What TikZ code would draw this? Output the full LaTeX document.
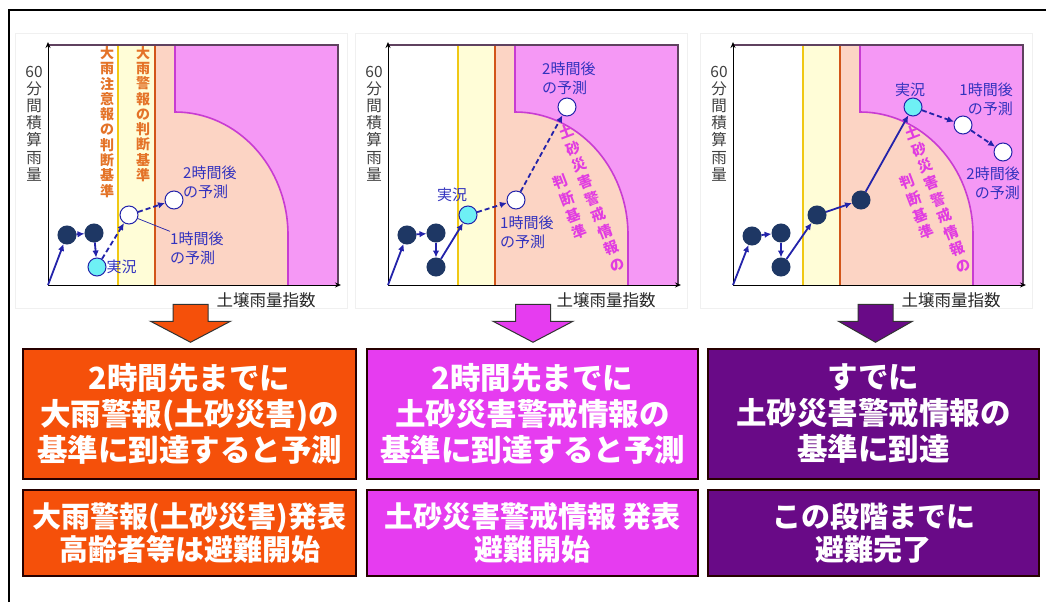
\documentclass[tikz,border=0pt]{standalone}
\usepackage{fontspec}
\newfontfamily\cjk{Noto Sans CJK JP}
\usetikzlibrary{arrows.meta}
\definecolor{navy}{RGB}{30,55,100}
\definecolor{ptblue}{RGB}{35,35,170}
\definecolor{lblblue}{RGB}{50,50,190}
\definecolor{cyanpt}{RGB}{110,240,245}
\definecolor{paleyel}{RGB}{255,253,215}
\definecolor{peach}{RGB}{252,212,196}
\definecolor{magfill}{RGB}{245,152,245}
\definecolor{magline}{RGB}{200,60,210}
\definecolor{yelline}{RGB}{240,200,20}
\definecolor{orline}{RGB}{210,85,25}
\definecolor{ortext}{RGB}{228,115,40}
\definecolor{magtext}{RGB}{225,60,225}
\definecolor{boxA}{RGB}{245,80,10}
\definecolor{boxB}{RGB}{230,60,240}
\definecolor{boxC}{RGB}{105,10,135}
\definecolor{framec}{RGB}{95,65,95}
\tikzset{
  panel/.style={draw=black!6,line width=0.6pt},
  magb/.style={draw=magline,line width=1.6pt},
  yell/.style={draw=yelline,line width=1.8pt},
  orl/.style={draw=orline,line width=1.8pt},
  plotframe/.style={draw=framec,line width=1.5pt},
  axis/.style={draw=black,line width=1pt,-{Stealth[length=6pt,width=5pt]}},
  ylab/.style={font=\cjk\fontsize{15.5}{17.2}\selectfont,text=black!75,align=center,inner sep=0pt},
  xlab/.style={font=\cjk\fontsize{16.5}{18}\selectfont,text=black!85,inner sep=0pt},
  pt/.style={circle,minimum size=18pt,inner sep=0pt,line width=1pt},
  darkpt/.style={pt,fill=navy,draw=navy},
  nowpt/.style={pt,fill=cyanpt,draw=ptblue},
  predpt/.style={pt,fill=white,draw=ptblue},
  conn/.style={draw=ptblue,line width=1.8pt,-{Latex[length=7pt,width=6.5pt]}},
  dconn/.style={conn,dash pattern=on 5pt off 3pt},
  lbl/.style={font=\cjk\fontsize{15}{19}\selectfont,text=lblblue,inner sep=0pt},
  leader/.style={draw=ptblue,line width=0.7pt},
  otext/.style={font=\cjk\bfseries\fontsize{14}{15.3}\selectfont,text=ortext,align=center,inner sep=0pt},
  mtext/.style={font=\cjk\bfseries\fontsize{14.5}{17.8}\selectfont,text=magtext,align=center,inner sep=0pt,rotate=21},
  bigbox/.style={draw=black!85!red,line width=1.5pt,minimum width=331pt,text=white,align=center,inner sep=0pt},
  topbox/.style={bigbox,minimum height=130pt,font=\cjk\bfseries\fontsize{30.5}{36}\selectfont},
  botbox/.style={bigbox,minimum height=86pt,font=\cjk\bfseries\fontsize{29}{33}\selectfont},
  bigarr/.style={draw=black!80,line width=1pt},
}
\newcommand\chartbg[1]{%
  \draw[panel] (-33,-252) rectangle (299,23);
  \fill[paleyel] (70,-240) rectangle (107,0);
  \fill[peach] (107,-240) rectangle (290,0);
  \fill[magfill] (127,-240) -- (127,-173) .. controls (189.4,-173) and (240,-117.9) .. (240,-50) -- (240,0) -- (290,0) -- (290,-240) -- cycle;
  \draw[magb] (127,-240) -- (127,-173) .. controls (189.4,-173) and (240,-117.9) .. (240,-50) -- (240,0);
  \draw[yell] (70,-240) -- (70,0);
  \draw[orl] (107,-240) -- (107,0);
  \draw[plotframe] (0,-240) -- (290,-240) -- (290,0);
  \coordinate (#1o) at (0,0);
  \draw[axis] (0,0) -- (0,-243);
  \draw[axis] (0,0) -- (293,0);
  \node[ylab] (#1yl) at (-14,-161.5) {60\\分\\間\\積\\算\\雨\\量};
  \node[xlab] (#1xl) at (218,15) {土壌雨量指数};
}
\begin{document}
\begin{tikzpicture}[x=1pt,y=-1pt]
\useasboundingbox (0,0) rectangle (1046,602);
\fill[white] (0,0) rectangle (1046,602);
\draw[black,line width=2pt] (9,602) -- (9,10) -- (1046,10);

% ---------- chart 1 ----------
\begin{scope}[shift={(48,285)}]
  \chartbg{a}
  \node[otext] (at1) at (59,-163) {大\\雨\\注\\意\\報\\の\\判\\断\\基\\準};
  \node[otext] (at2) at (95,-171) {大\\雨\\警\\報\\の\\判\\断\\基\\準};
  \node[darkpt] (a1) at (19,-50) {};
  \node[darkpt] (a2) at (46,-52) {};
  \node[nowpt] (a3) at (49,-18) {};
  \node[predpt] (a4) at (81,-70) {};
  \node[predpt] (a5) at (126,-85) {};
  \draw[conn] (ao) -- (a1);
  \draw[conn] (a1) -- (a2);
  \draw[conn] (a2) -- (a3);
  \draw[dconn] (a3) -- (a4);
  \draw[dconn] (a4) -- (a5);
  \node[lbl,anchor=west] (an) at (a3.east) {実況};
  \node[lbl,anchor=west,align=left] (al1) at (122,-37) {1時間後\\の予測};
  \node[lbl,anchor=west,align=left] (al2) at (135,-102.5) {2時間後\\の予測};
  \draw[leader] (a4) -- (al1.north west);
\end{scope}

% ---------- chart 2 ----------
\begin{scope}[shift={(388,285)}]
  \chartbg{b}
  \node[mtext] (bm1) at (204,-87) {土\\砂\\災\\害\\警\\戒\\情\\報\\の};
  \node[mtext] (bm2) at (182,-78) {判\\断\\基\\準};
  \node[darkpt] (b1) at (19,-50) {};
  \node[darkpt] (b2) at (48,-52) {};
  \node[darkpt] (b3) at (48,-18) {};
  \node[nowpt] (b4) at (80,-70) {};
  \node[predpt] (b5) at (128,-85) {};
  \node[predpt] (b6) at (179,-178) {};
  \draw[conn] (bo) -- (b1);
  \draw[conn] (b1) -- (b2);
  \draw[conn] (b2) -- (b3);
  \draw[conn] (b3) -- (b4);
  \draw[dconn] (b4) -- (b5);
  \draw[dconn] (b5) -- (b6);
  \node[lbl] (bn) at (64,-90) {実況};
  \node[lbl,anchor=west,align=left] (bl1) at (112,-53) {1時間後\\の予測};
  \node[lbl,anchor=west,align=left] (bl2) at (154,-207) {2時間後\\の予測};
\end{scope}

% ---------- chart 3 ----------
\begin{scope}[shift={(733,285)}]
  \chartbg{c}
  \node[mtext] (cm1) at (205,-86) {土\\砂\\災\\害\\警\\戒\\情\\報\\の};
  \node[mtext] (cm2) at (184,-78) {判\\断\\基\\準};
  \node[darkpt] (c1) at (19,-49) {};
  \node[darkpt] (c2) at (48,-52) {};
  \node[darkpt] (c3) at (48,-18) {};
  \node[darkpt] (c4) at (84,-70) {};
  \node[darkpt] (c5) at (128,-85) {};
  \node[nowpt] (c6) at (180,-178) {};
  \node[predpt] (c7) at (230,-160) {};
  \node[predpt] (c8) at (270,-133) {};
  \draw[conn] (co) -- (c1);
  \draw[conn] (c1) -- (c2);
  \draw[conn] (c2) -- (c3);
  \draw[conn] (c3) -- (c4);
  \draw[conn] (c4) -- (c5);
  \draw[conn] (c5) -- (c6);
  \draw[dconn] (c6) -- (c7);
  \draw[dconn] (c7) -- (c8);
  \node[lbl] (cn) at (177,-195) {実況};
  \node[lbl,anchor=east,align=right] (cl1) at (280,-186) {1時間後\\の予測};
  \node[lbl,anchor=east,align=right] (cl2) at (287,-102) {2時間後\\の予測};
\end{scope}

% ---------- boxes ----------
\node[topbox,fill=boxA,minimum width=333pt] (A1) at (189.5,414) {2時間先までに\\大雨警報(土砂災害)の\\基準に到達すると予測};
\node[botbox,fill=boxA,minimum width=333pt] (A2) at (189.5,533) {大雨警報(土砂災害)発表\\高齢者等は避難開始};
\node[topbox,fill=boxB] (B1) at (532.5,414) {2時間先までに\\土砂災害警戒情報の\\基準に到達すると予測};
\node[botbox,fill=boxB] (B2) at (532.5,533) {土砂災害警戒情報 発表\\避難開始};
\node[topbox,fill=boxC] (C1) at (873.5,414) {すでに\\土砂災害警戒情報の\\基準に到達};
\node[botbox,fill=boxC] (C2) at (873.5,533) {この段階までに\\避難完了};

% ---------- block arrows ----------
\draw[bigarr,fill=boxA] ([xshift=1pt,yshift=6pt]A1.north) -- ++(-40,-21) -- ++(22.5,0) -- ++(0,-17) -- ++(35,0) -- ++(0,17) -- ++(22.5,0) -- cycle;
\draw[bigarr,fill=boxB] ([xshift=0.5pt,yshift=6pt]B1.north) -- ++(-40,-21) -- ++(22.5,0) -- ++(0,-17) -- ++(35,0) -- ++(0,17) -- ++(22.5,0) -- cycle;
\draw[bigarr,fill=boxC] ([xshift=2pt,yshift=6pt]C1.north) -- ++(-37,-21) -- ++(19.5,0) -- ++(0,-17) -- ++(35,0) -- ++(0,17) -- ++(19.5,0) -- cycle;
\end{tikzpicture}
\end{document}
